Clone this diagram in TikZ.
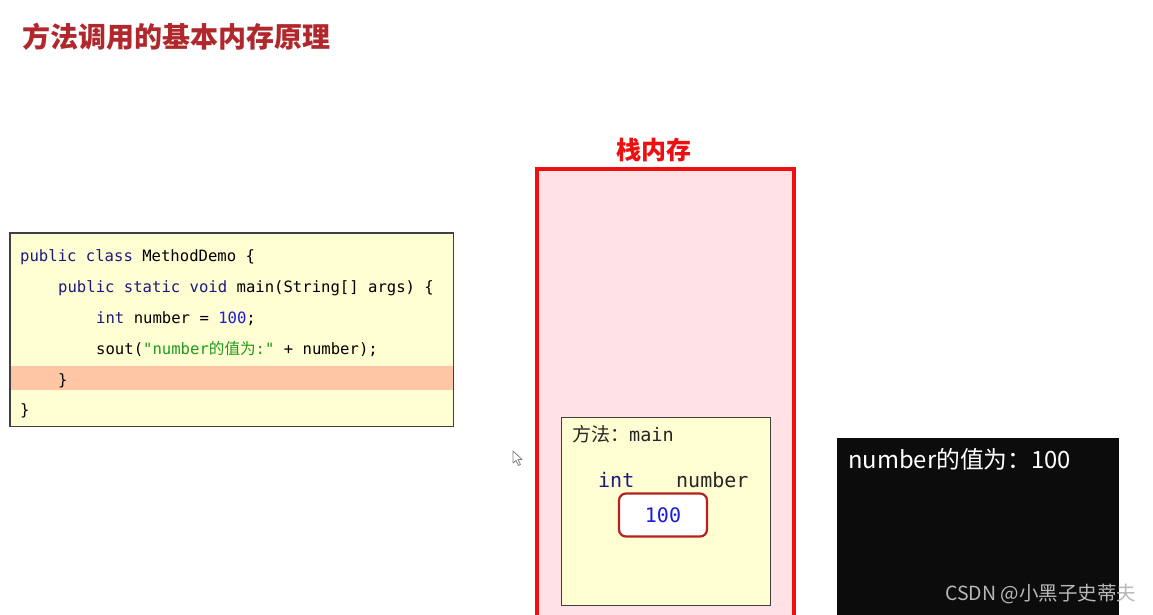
\documentclass[tikz,border=0pt]{standalone}
\usepackage{fontspec}
\setmainfont{Noto Sans CJK SC}
\setmonofont{DejaVu Sans Mono}
\newfontfamily\cjk{Noto Sans CJK SC}
\definecolor{titlered}{HTML}{B0282C}
\definecolor{codebg}{HTML}{FFFED2}
\definecolor{codeborder}{HTML}{404040}
\definecolor{hl}{HTML}{FFC6A6}
\definecolor{kw}{HTML}{1A1A80}
\definecolor{num}{HTML}{1A1AE0}
\definecolor{str}{HTML}{1E9A1E}
\definecolor{stackred}{HTML}{EE1010}
\definecolor{stackbg}{HTML}{FFE1E6}
\definecolor{valred}{HTML}{B82020}
\definecolor{console}{HTML}{0C0C0C}
\definecolor{wm}{HTML}{B8B8B8}
\tikzset{
  codetext/.style={anchor=base west, inner sep=0, font=\ttfamily\fontsize{15.6}{18}\selectfont},
  frametext/.style={anchor=base west, inner sep=0, font=\ttfamily\fontsize{20}{24}\selectfont},
}
\begin{document}
\begin{tikzpicture}[x=1pt,y=-1pt]
\useasboundingbox (0,0) rectangle (1153,614);
\clip (0,0) rectangle (1153,614);
\fill[white] (0,0) rectangle (1153,614);
% title
\node[anchor=west, inner sep=0, text=titlered, font=\cjk\bfseries\fontsize{28}{32}\selectfont] (title) at (22,37) {方法调用的基本内存原理};
% code box
\node[fill=codebg, minimum width=443pt, minimum height=193pt, anchor=north west, inner sep=0] (code) at (10,233) {};
\fill[hl] (10,366) rectangle (453,390);
\draw[codeborder, line width=1.2] (code.north west) rectangle (code.south east);
\node[codetext] (l1) at (20,261) {\textcolor{kw}{public class} MethodDemo \{};
\node[codetext] (l2) at (58,292) {\textcolor{kw}{public static void} main(String[] args) \{};
\node[codetext] (l3) at (96,323) {\textcolor{kw}{int} number = \textcolor{num}{100};};
\node[codetext] (l4) at (96,354) {sout(\textcolor{str}{"number{\cjk 的值为}:"} + number);};
\node[codetext] (l5) at (58,385) {\}};
\node[codetext] (l6) at (20,415) {\}};
% stack
\node[anchor=center, inner sep=0, text=stackred, font=\cjk\bfseries\fontsize{25}{28}\selectfont] (stacklabel) at (654,150) {栈内存};
\draw[stackred, line width=3.2, fill=stackbg] (537,169) rectangle (794,640);
% method frame
\draw[codeborder, line width=1, fill=codebg] (561,417) rectangle (770,605);
\node[anchor=base west, inner sep=0, font=\fontsize{19}{22}\selectfont, text=black!85] (mname) at (572,441) {方法：{\ttfamily\fontsize{18.5}{22}\selectfont main}};
\node[frametext, text=kw] (tint) at (598,487) {int};
\node[frametext, text=black!85] (tnum) at (676,487) {number};
\node[draw=valred, line width=2.2, rounded corners=7pt, fill=white, minimum width=88pt, minimum height=43pt, inner sep=0] (val) at (663,515) {};
\node[frametext, anchor=center, text=num] (valtxt) at (663,515) {100};
% cursor
\draw[gray, fill=white, line width=0.8, line join=round] (513,451) -- (513,463) -- (516,460.5) -- (518.5,465.5) -- (520.5,464.5) -- (518,459.5) -- (522,459.5) -- cycle;
% console
\fill[console] (837,438) rectangle (1119,640);
\node[anchor=base west, inner sep=0, text=white, font=\fontsize{23.8}{26}\selectfont] (out) at (848,468) {number的值为：100};
\node[anchor=base west, inner sep=0, text=wm, font=\fontsize{19.5}{22}\selectfont] (wmark) at (945,600) {CSDN @小黑子史蒂夫};
\end{tikzpicture}
\end{document}
